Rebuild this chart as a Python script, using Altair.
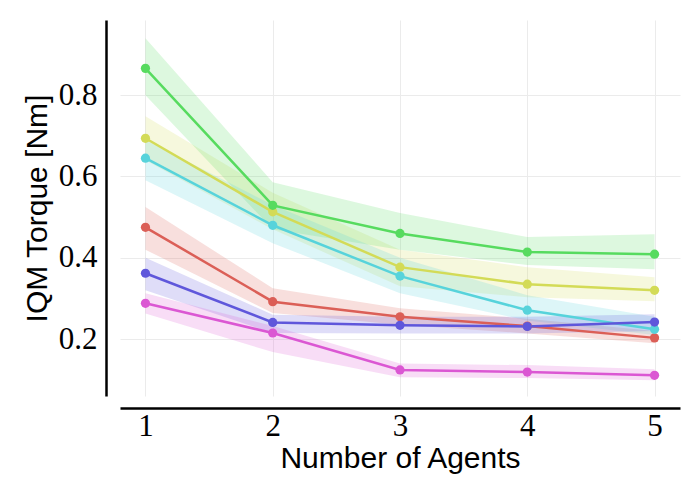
import altair as alt
import pandas as pd

agents = [1, 2, 3, 4, 5]
series = ["red", "yellow", "green", "cyan", "blue", "magenta"]
colors = ["#db5f57", "#d3db57", "#57db5f", "#57d3db", "#5f57db", "#db57d3"]

red_mean = [0.475, 0.292, 0.255, 0.232, 0.203]
red_lo = [0.420, 0.264, 0.235, 0.214, 0.190]
red_hi = [0.525, 0.325, 0.276, 0.250, 0.220]

yellow_mean = [0.694, 0.513, 0.377, 0.335, 0.320]
yellow_lo = [0.640, 0.470, 0.330, 0.303, 0.293]
yellow_hi = [0.748, 0.560, 0.420, 0.377, 0.352]

green_mean = [0.866, 0.529, 0.460, 0.414, 0.409]
green_lo = [0.800, 0.470, 0.420, 0.382, 0.372]
green_hi = [0.940, 0.586, 0.510, 0.451, 0.458]

cyan_mean = [0.645, 0.480, 0.355, 0.271, 0.224]
cyan_lo = [0.591, 0.436, 0.313, 0.246, 0.210]
cyan_hi = [0.690, 0.530, 0.400, 0.308, 0.255]

blue_mean = [0.362, 0.241, 0.234, 0.231, 0.242]
blue_lo = [0.320, 0.215, 0.214, 0.214, 0.220]
blue_hi = [0.400, 0.260, 0.255, 0.255, 0.261]

magenta_mean = [0.288, 0.215, 0.124, 0.119, 0.111]
magenta_lo = [0.263, 0.168, 0.106, 0.104, 0.099]
magenta_hi = [0.313, 0.232, 0.140, 0.136, 0.126]

means = [red_mean, yellow_mean, green_mean, cyan_mean, blue_mean, magenta_mean]
los = [red_lo, yellow_lo, green_lo, cyan_lo, blue_lo, magenta_lo]
his = [red_hi, yellow_hi, green_hi, cyan_hi, blue_hi, magenta_hi]

rows = []
for s, m, lo, hi in zip(series, means, los, his):
    for a, mv, lv, hv in zip(agents, m, lo, hi):
        rows.append({"agents": a, "series": s, "mean": mv, "lo": lv, "hi": hv})
df = pd.DataFrame(rows)

serif = "Liberation Serif"
sans = "Liberation Sans"

xenc = alt.X(
    "agents:Q",
    scale=alt.Scale(domain=[0.8, 5.2], nice=False, zero=False),
    axis=alt.Axis(
        values=agents, format="d", title="Number of Agents",
        labelFont=serif, labelFontSize=31, labelColor="black", labelPadding=3,
        titleFont=sans, titleFontSize=30, titleFontWeight="normal", titleColor="black",
        titlePadding=2, ticks=False, domainColor="black", domainWidth=2.5,
        offset=12, grid=True, gridColor="#ebebeb", gridWidth=1,
    ),
)
yscale = alt.Scale(domain=[0.06, 0.985], nice=False, zero=False)
yaxis = alt.Axis(
    values=[0.2, 0.4, 0.6, 0.8], format=".1f", title="IQM Torque [Nm]",
    labelFont=serif, labelFontSize=31, labelColor="black", labelPadding=9,
    titleFont=sans, titleFontSize=30, titleFontWeight="normal", titleColor="black",
    titlePadding=6, ticks=False, domainColor="black", domainWidth=2.5,
    offset=14, grid=True, gridColor="#ebebeb", gridWidth=1,
)
cenc = alt.Color("series:N", scale=alt.Scale(domain=series, range=colors), legend=None)

base = alt.Chart(df)
band = base.mark_area(opacity=0.2).encode(
    x=xenc, y=alt.Y("lo:Q", scale=yscale, axis=yaxis), y2="hi:Q", color=cenc,
    detail="series:N",
)
line = base.mark_line(strokeWidth=2.5).encode(
    x="agents:Q", y="mean:Q", color=cenc, detail="series:N"
)
pts = base.mark_circle(size=85, opacity=1).encode(
    x="agents:Q", y="mean:Q", color=cenc
)

chart = alt.layer(band, line, pts).properties(
    width=560, height=376,
    autosize=alt.AutoSizeParams(type="none"),
    padding={"left": 112, "top": 12, "right": 12, "bottom": 80},
).configure_view(stroke=None)

chart.save("out.html", embed_options={"renderer": "svg", "actions": False})
